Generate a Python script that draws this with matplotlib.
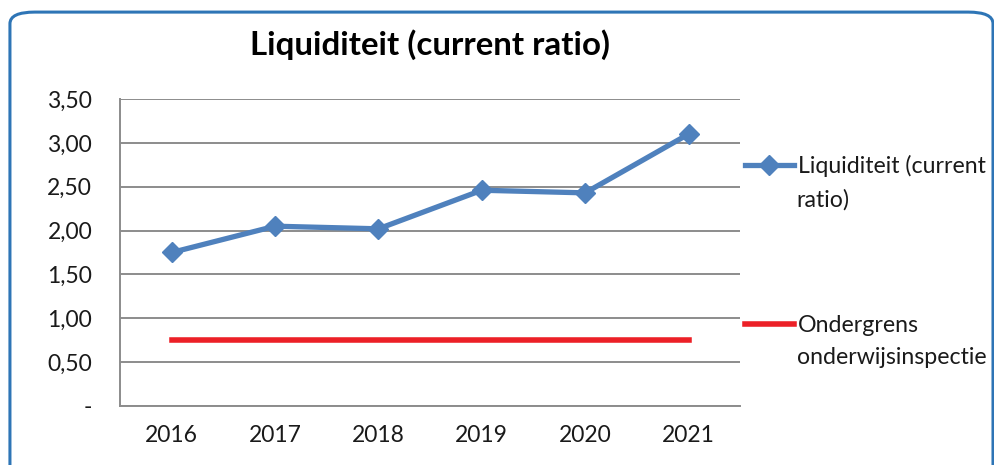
import matplotlib.pyplot as plt
from matplotlib.patches import FancyBboxPatch
from matplotlib.ticker import FuncFormatter

plt.rcParams["font.family"] = ["Lato", "DejaVu Sans"]

years = ["2016", "2017", "2018", "2019", "2020", "2021"]
liquiditeit = [1.75, 2.05, 2.02, 2.46, 2.43, 3.10]
ondergrens = [0.75, 0.75, 0.75, 0.75, 0.75, 0.75]
yticks = [0, 0.5, 1.0, 1.5, 2.0, 2.5, 3.0, 3.5]

blue = "#4F81BD"
red = "#EC2027"
grid = "#8C8C8C"
textcol = "#1A1A1A"


def fmt(v, pos):
    # Dutch style: comma as decimal separator, dash for zero
    if abs(v) < 1e-9:
        return "-"
    return "{:.2f}".format(v).replace(".", ",")


def main():
    fig = plt.figure(figsize=(9.94, 4.65), dpi=100)

    # rounded blue frame around the chart
    frame = FancyBboxPatch((0.01, -0.05), 0.989, 1.024,
                           boxstyle="round,pad=0,rounding_size=0.025",
                           transform=fig.transFigure, facecolor="none",
                           edgecolor="#2E75B6", linewidth=2.2, zorder=0)
    fig.patches.append(frame)

    ax = fig.add_axes([0.1207, 0.127, 0.624, 0.660])
    x = range(len(years))
    l1, = ax.plot(x, liquiditeit, color=blue, linewidth=3.8, marker="D",
                  markersize=10.5, label="Liquiditeit (current", zorder=3)
    l2, = ax.plot(x, ondergrens, color=red, linewidth=4,
                  label="Ondergrens", zorder=3)

    ax.set_xlim(-0.5, len(years) - 0.5)
    ax.set_ylim(0, 3.5)
    ax.set_yticks(yticks)
    ax.yaxis.set_major_formatter(FuncFormatter(fmt))
    ax.set_xticks(list(x))
    ax.set_xticklabels(years)
    ax.grid(axis="y", color=grid, linewidth=1.4)
    ax.set_axisbelow(True)
    for side in ["top", "right"]:
        ax.spines[side].set_visible(False)
    for side in ["left", "bottom"]:
        ax.spines[side].set_color(grid)
        ax.spines[side].set_linewidth(1.4)
    ax.tick_params(length=0, labelsize=16.5, colors=textcol, pad=14)
    ax.tick_params(axis="y", pad=20)

    fig.text(0.4326, 0.903, "Liquiditeit (current ratio)", ha="center",
             va="center", fontsize=23.8, fontweight="bold", color="black")

    # legend: one entry per block, second line of each label as plain text
    for handle, ypos in [(l1, 0.643), (l2, 0.299)]:
        fig.legend(handles=[handle], loc="center left",
                   bbox_to_anchor=(0.7495, ypos), frameon=False,
                   fontsize=16.7, handlelength=2.1, handletextpad=0.2,
                   borderpad=0, borderaxespad=0, labelcolor=textcol)
    fig.text(0.8015, 0.570, "ratio)", fontsize=16.7, va="center",
             color=textcol)
    fig.text(0.8015, 0.232, "onderwijsinspectie", fontsize=16.7, va="center",
             color=textcol)

    fig.savefig("out.png", dpi=100)


if __name__ == "__main__":
    main()
